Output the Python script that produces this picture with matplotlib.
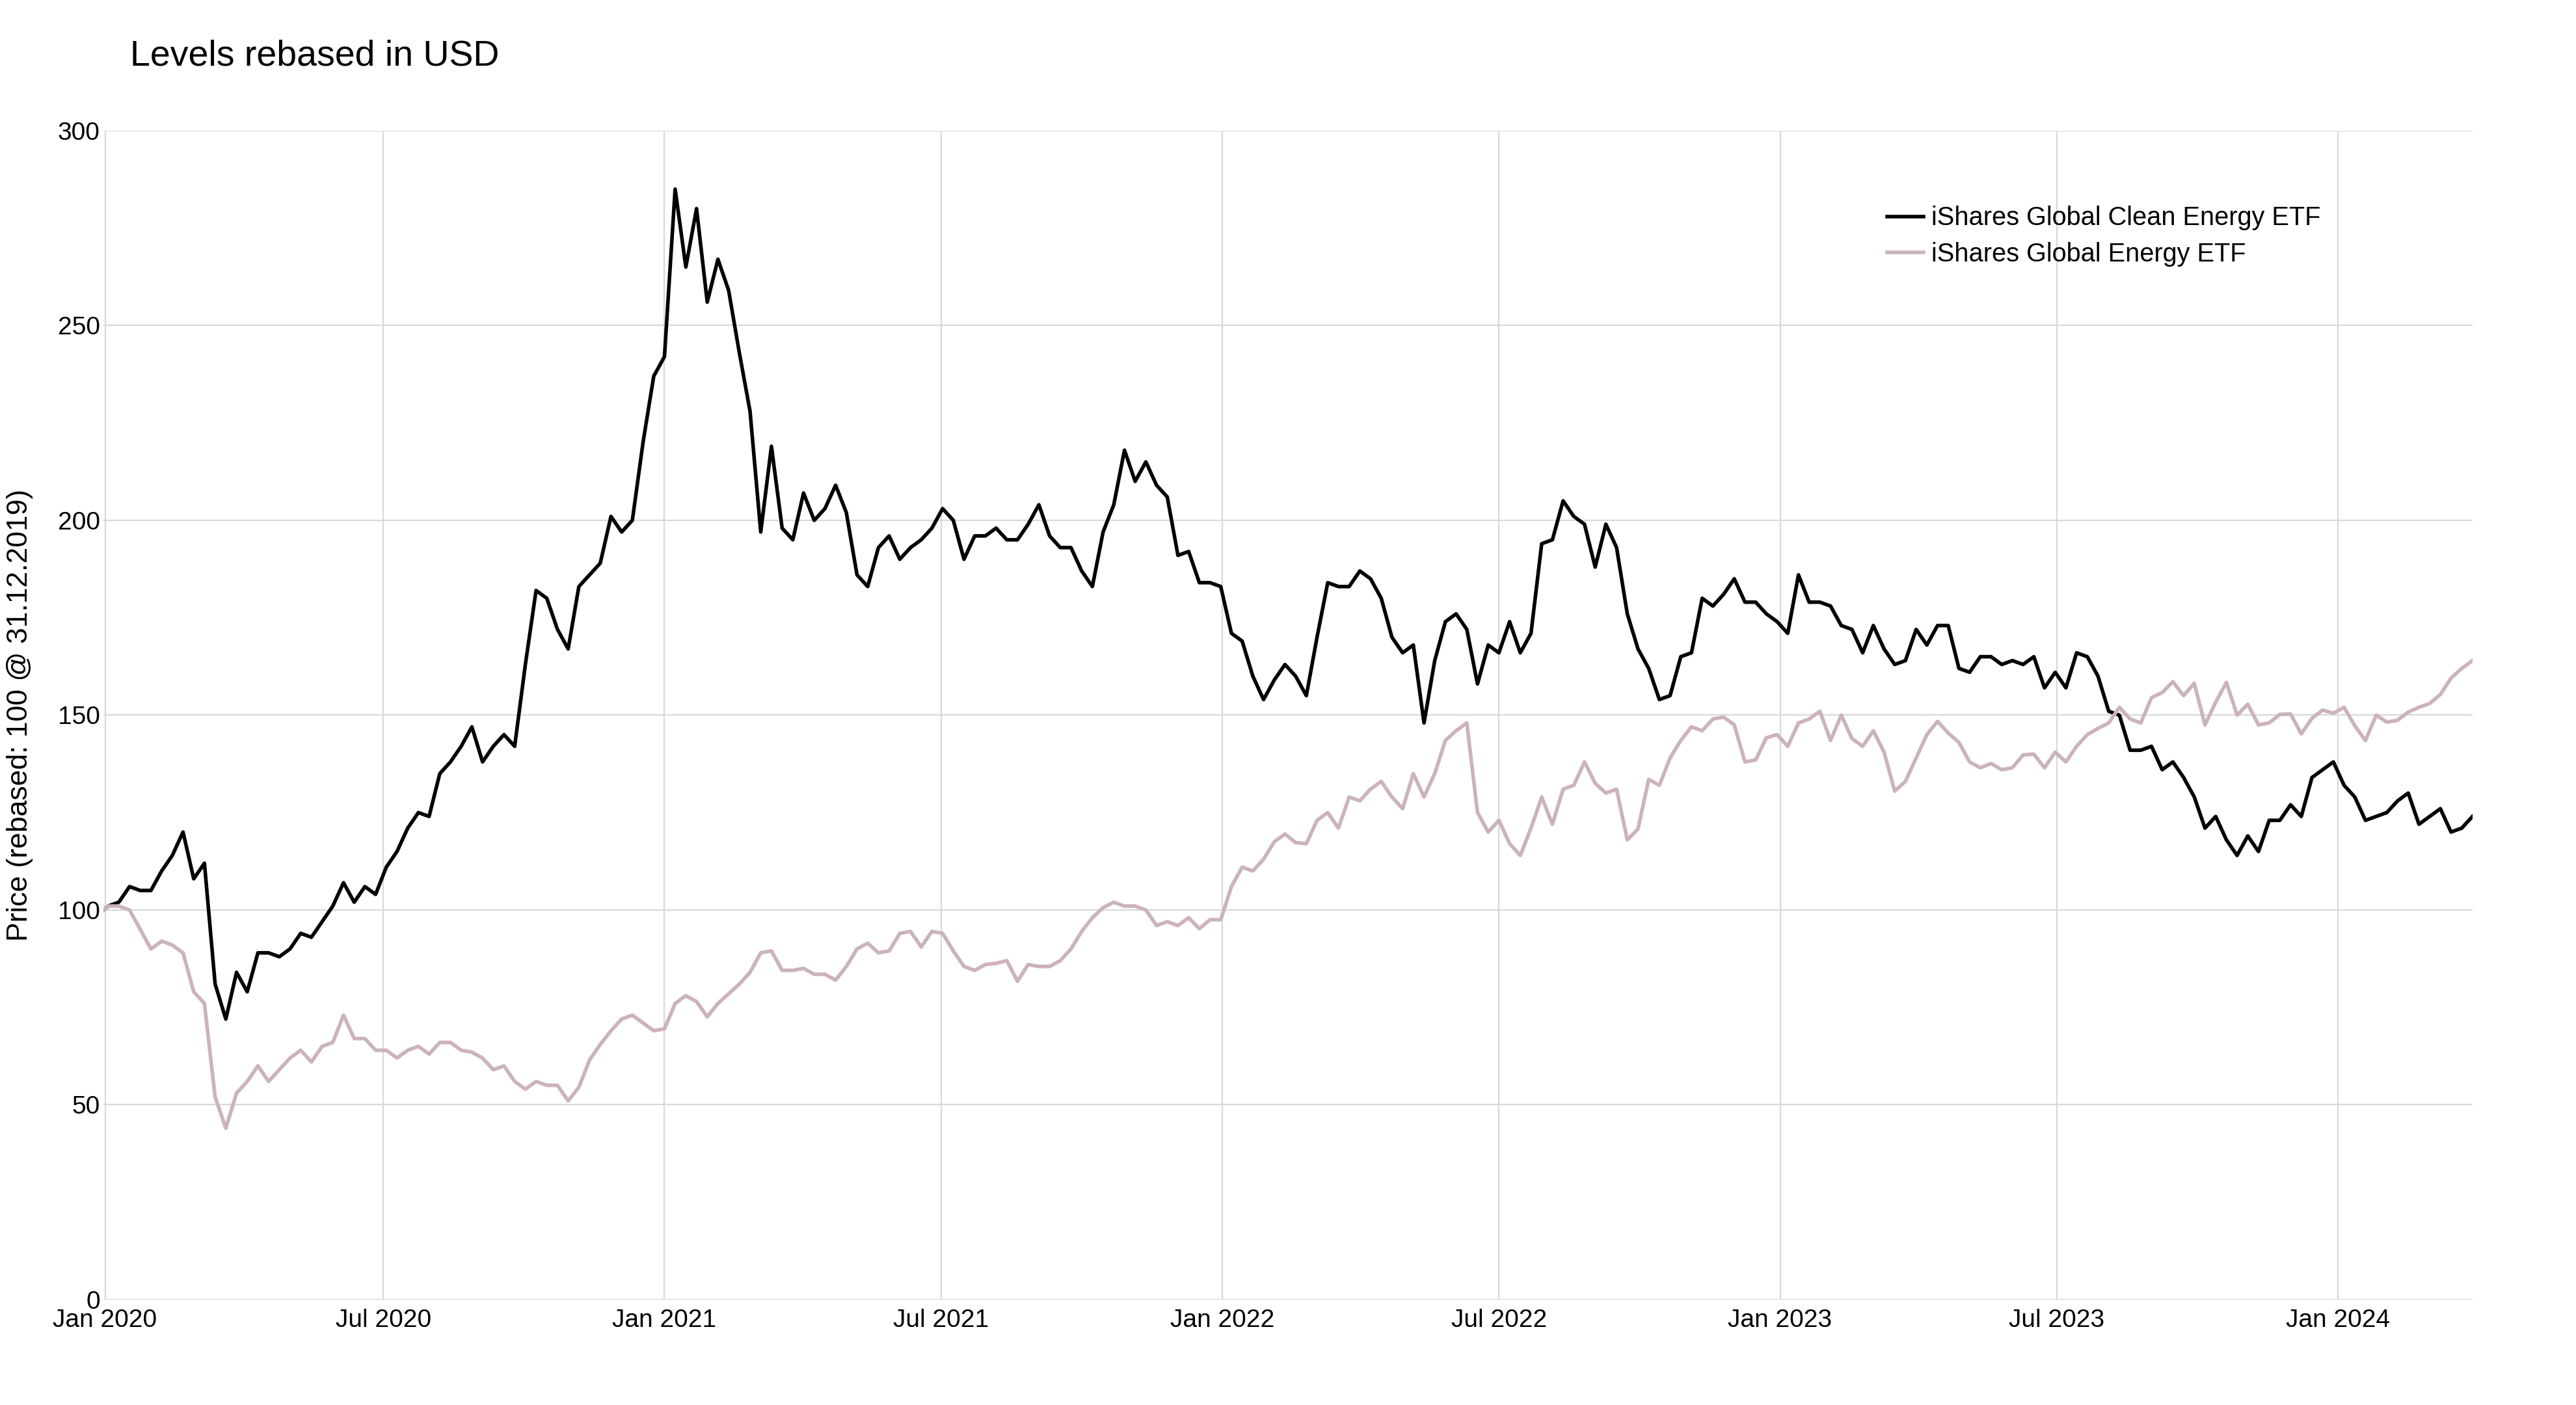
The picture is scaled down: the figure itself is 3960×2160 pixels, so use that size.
import pandas as pd
import matplotlib
matplotlib.use("Agg")
import matplotlib.pyplot as plt
import matplotlib.dates as mdates

plt.rcParams['font.family'] = ['Liberation Sans', 'DejaVu Sans']

# weekly closes (Fridays), rebased to 100 on 31.12.2019
start_date = '2019-12-31'
first_week = '2020-01-03'

clean_energy = [
    101, 102, 106, 105, 105, 110, 114, 120, 108, 112,
    81, 72, 84, 79, 89, 89, 88, 90, 94, 93,
    97, 101, 107, 102, 106, 104, 111, 115, 121, 125,
    124, 135, 138, 142, 147, 138, 142, 145, 142, 163,
    182, 180, 172, 167, 183, 186, 189, 201, 197, 200,
    220, 237, 242, 285, 265, 280, 256, 267, 259, 243,
    228, 197, 219, 198, 195, 207, 200, 203, 209, 202,
    186, 183, 193, 196, 190, 193, 195, 198, 203, 200,
    190, 196, 196, 198, 195, 195, 199, 204, 196, 193,
    193, 187, 183, 197, 204, 218, 210, 215, 209, 206,
    191, 192, 184, 184, 183, 171, 169, 160, 154, 159,
    163, 160, 155, 170, 184, 183, 183, 187, 185, 180,
    170, 166, 168, 148, 164, 174, 176, 172, 158, 168,
    166, 174, 166, 171, 194, 195, 205, 201, 199, 188,
    199, 193, 176, 167, 162, 154, 155, 165, 166, 180,
    178, 181, 185, 179, 179, 176, 174, 171, 186, 179,
    179, 178, 173, 172, 166, 173, 167, 163, 164, 172,
    168, 173, 173, 162, 161, 165, 165, 163, 164, 163,
    165, 157, 161, 157, 166, 165, 160, 151, 150, 141,
    141, 142, 136, 138, 134, 129, 121, 124, 118, 114,
    119, 115, 123, 123, 127, 124, 134, 136, 138, 132,
    129, 123, 124, 125, 128, 130, 122, 124, 126, 120,
    121, 124,
]

global_energy = [
    101, 101, 100, 95, 90, 92, 91, 89, 79, 76,
    52, 44, 53, 56, 60, 56, 59, 62, 64, 61,
    65, 66, 73, 67, 67, 64, 64, 62, 64, 65,
    63, 66, 66, 64, 63.5, 62, 59, 60, 56, 54,
    56, 55, 55, 51, 54.5, 61.5, 65.5, 69, 72, 73,
    71, 69, 69.5, 76, 78, 76.5, 72.6, 76, 78.5, 81,
    84, 89, 89.5, 84.5, 84.5, 85, 83.5, 83.5, 82, 85.5,
    90, 91.5, 89, 89.5, 94, 94.5, 90.5, 94.5, 94, 89.5,
    85.5, 84.5, 86, 86.3, 87, 81.7, 86, 85.5, 85.5, 87,
    90, 94.5, 98, 100.6, 102, 101, 101, 100, 96, 97,
    96, 98, 95.2, 97.5, 97.5, 106, 111, 110, 113, 117.5,
    119.5, 117.3, 117, 123, 125, 121, 129, 128, 131, 133,
    129, 126, 135, 129, 135, 143.5, 146, 148, 125, 120,
    123, 117, 114, 121, 129, 122, 131, 132, 138, 132.5,
    130, 131, 118, 120.8, 133.5, 132, 139, 143.5, 147, 146,
    149, 149.5, 147.5, 138, 138.5, 144.2, 145, 142, 148, 149,
    151, 143.5, 150, 144, 142, 146, 140.5, 130.5, 133, 139,
    145, 148.4, 145.4, 143, 138, 136.5, 137.6, 136, 136.5, 139.8,
    140, 136.5, 140.5, 138, 142, 145, 146.6, 148, 152, 149,
    148, 154.5, 155.8, 158.6, 155, 158.2, 147.5, 153.3, 158.4, 150,
    152.8, 147.5, 148, 150.2, 150.3, 145.2, 149.2, 151.3, 150.5, 152,
    147.3, 143.5, 150, 148.2, 148.7, 150.8, 152, 153, 155.3, 159.5,
    162, 164,
]

dates = [pd.Timestamp(start_date)] + list(pd.date_range(first_week, periods=len(clean_energy), freq='7D'))
df = pd.DataFrame({
    'iShares Global Clean Energy ETF': [100] + clean_energy,
    'iShares Global Energy ETF': [100] + global_energy,
}, index=dates)

fig = plt.figure(figsize=(19.8, 10.8), dpi=200)
ax = fig.add_axes([0.0402, 0.075, 0.9196, 0.832])

ax.plot(df.index, df['iShares Global Clean Energy ETF'], color='black', lw=2.0,
        label='iShares Global Clean Energy ETF')
ax.plot(df.index, df['iShares Global Energy ETF'], color='#cbb3b9', lw=2.0,
        label='iShares Global Energy ETF')

ax.set_ylim(0, 300)
ax.set_yticks(range(0, 301, 50))
ax.set_xlim(df.index[0], df.index[-1])
ax.xaxis.set_major_locator(mdates.MonthLocator(bymonth=[1, 7]))
ax.xaxis.set_major_formatter(mdates.DateFormatter('%b %Y'))

ax.grid(True, color='#d9d9d9', lw=0.8)
ax.set_axisbelow(True)
for s in ax.spines.values():
    s.set_visible(False)
ax.tick_params(length=0, labelsize=14, pad=2)
ax.tick_params(axis='x', pad=5)

fig.text(0.0505, 0.960, 'Levels rebased in USD', fontsize=20, va='center', ha='left')
fig.text(0.0076, 0.491, 'Price (rebased: 100 @ 31.12.2019)', fontsize=16,
         rotation=90, va='center', ha='center')

ax.legend(loc='upper left', bbox_to_anchor=(0.7326, 0.8535), bbox_transform=fig.transFigure,
          frameon=False, fontsize=14.3, handlelength=1.4, handletextpad=0.3,
          labelspacing=0.45, borderpad=0, borderaxespad=0)

fig.savefig('out.png', dpi=200)
